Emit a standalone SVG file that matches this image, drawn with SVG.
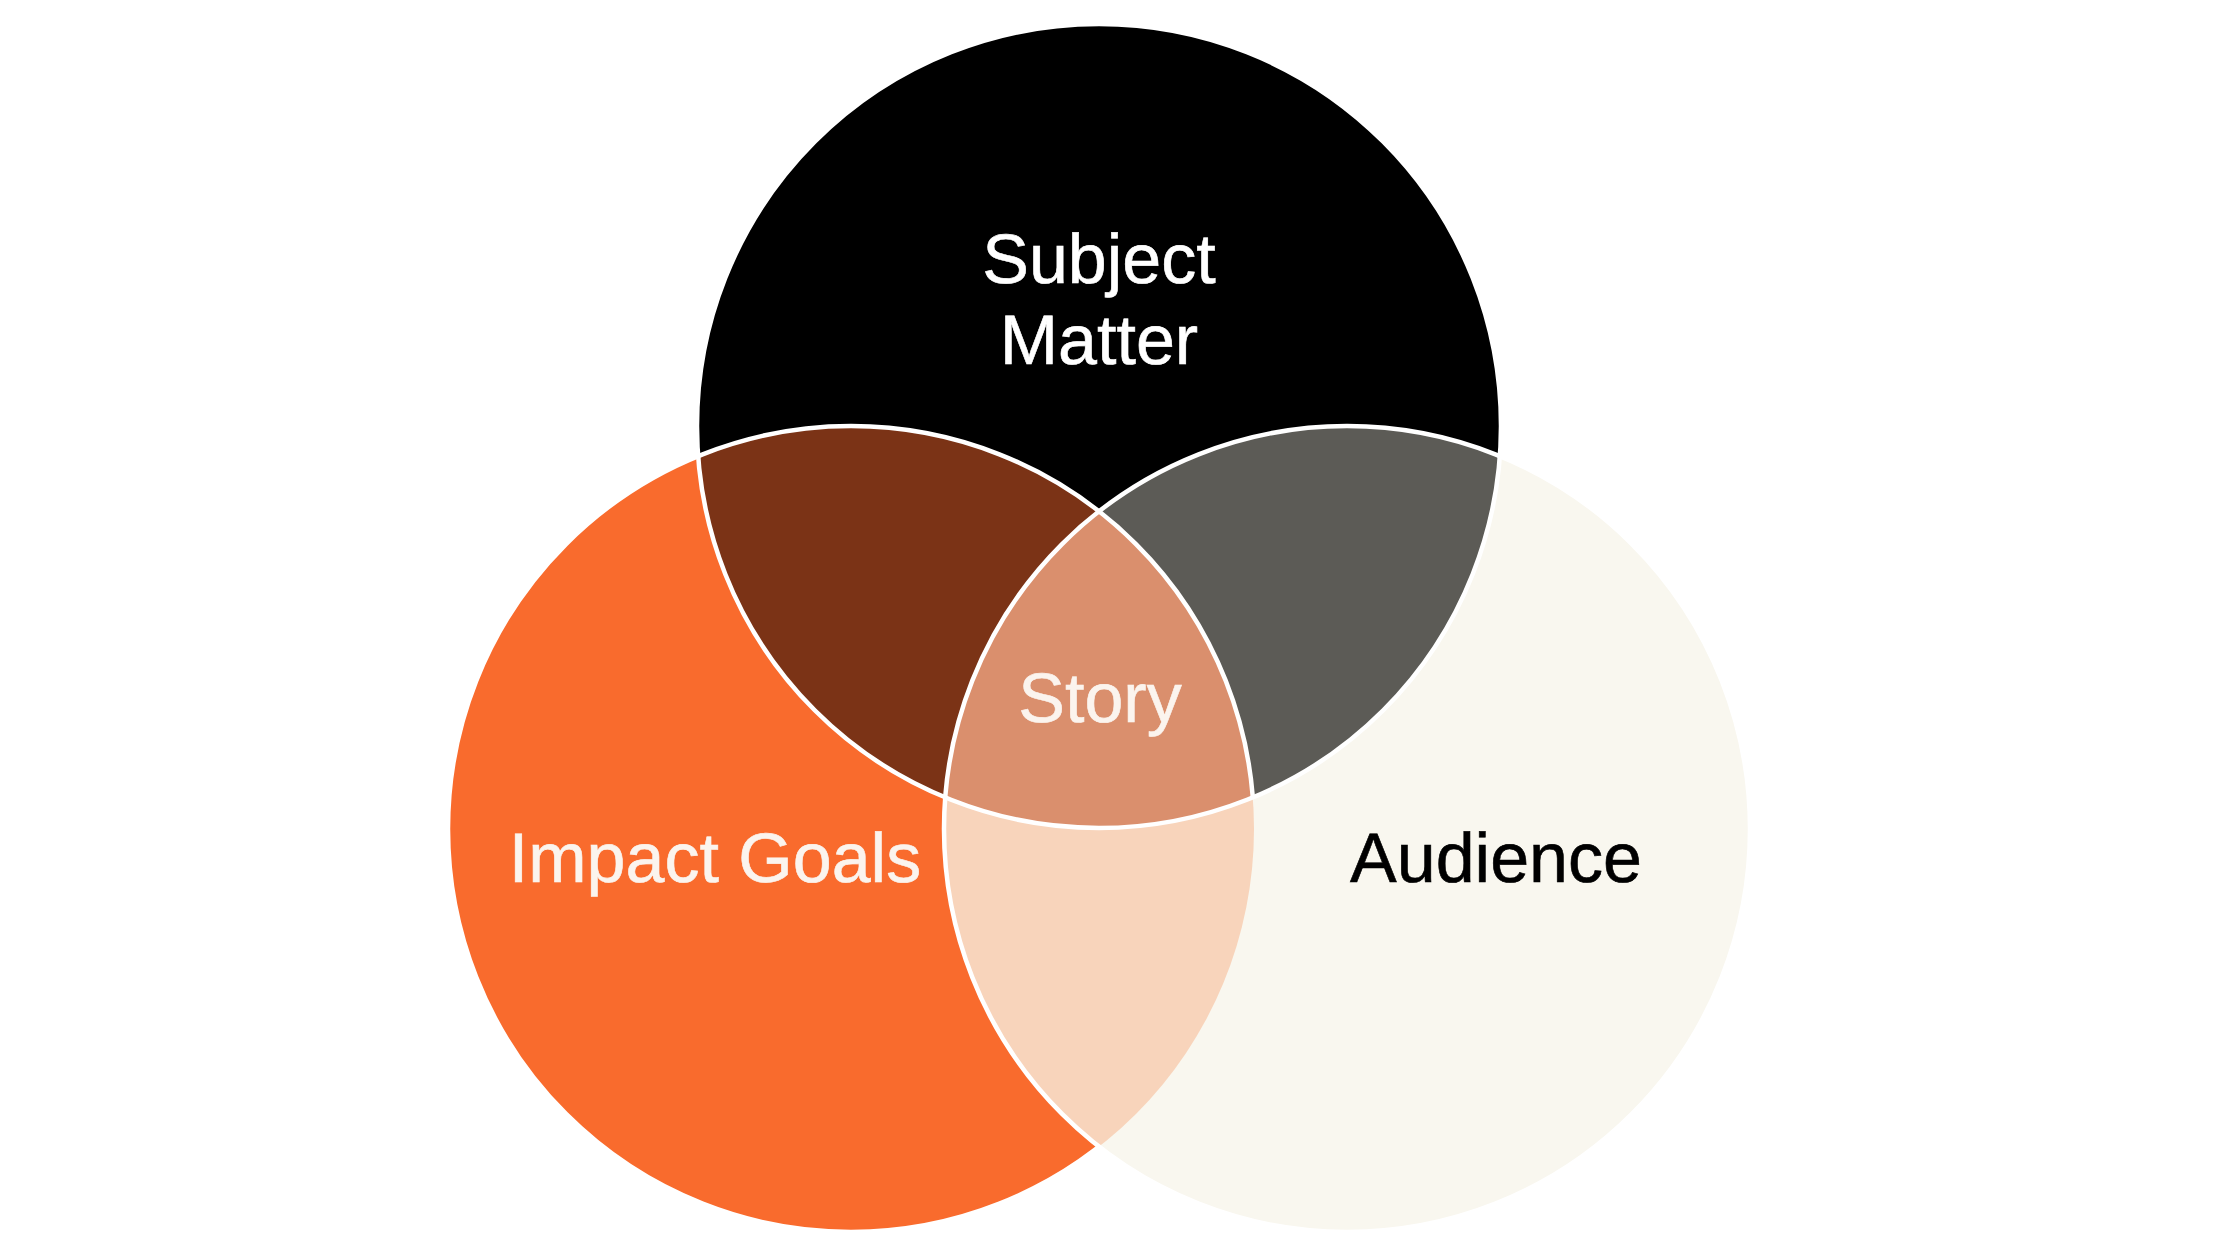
<svg xmlns="http://www.w3.org/2000/svg" width="2240" height="1260" viewBox="0 0 2240 1260">
<style>
.lbl{font-family:"Liberation Sans",Arial,sans-serif;font-size:70px;text-anchor:middle;stroke-width:0.6;paint-order:stroke;text-rendering:geometricPrecision}
.ring{fill:none;stroke:#ffffff;stroke-width:4.5}
</style>
<defs>
<clipPath id="cL"><circle cx="851" cy="829" r="403"/></clipPath>
<clipPath id="cR"><circle cx="1347" cy="829" r="403"/></clipPath>
<clipPath id="cT"><circle cx="1099" cy="426" r="402"/></clipPath>
<mask id="mL" maskUnits="userSpaceOnUse" x="0" y="0" width="2240" height="1260">
<rect width="2240" height="1260" fill="#ffffff"/>
<circle cx="1347" cy="829" r="403" fill="#000000"/>
<circle cx="1099" cy="426" r="402" fill="#ffffff"/>
</mask>
</defs>
<rect width="2240" height="1260" fill="#ffffff"/>
<g id="impact-goals">
<circle cx="851" cy="829" r="403" fill="#F96B2D"/>
</g>
<g id="audience">
<circle cx="1347" cy="829" r="403" fill="#F9F7EF"/>
</g>
<g id="subject-matter">
<circle cx="1099" cy="426" r="402" fill="#000000"/>
</g>
<g id="overlaps">
<circle cx="1099" cy="426" r="402" fill="#7B3316" clip-path="url(#cL)"/>
<circle cx="1099" cy="426" r="402" fill="#5C5B56" clip-path="url(#cR)"/>
<circle cx="851" cy="829" r="403" fill="#F8D4BB" clip-path="url(#cR)"/>
</g>
<g id="story">
<g clip-path="url(#cR)">
<circle cx="1099" cy="426" r="402" fill="#DA8F6D" clip-path="url(#cL)"/>
</g>
</g>
<g id="outlines">
<circle class="ring" cx="851" cy="829" r="403" mask="url(#mL)"/>
<circle class="ring" cx="1347" cy="829" r="403"/>
<circle class="ring" cx="1099" cy="426" r="402"/>
</g>
<g id="labels">
<text class="lbl" x="1099" y="283" fill="#ffffff" stroke="#ffffff">Subject</text>
<text class="lbl" x="1099" y="364" fill="#ffffff" stroke="#ffffff">Matter</text>
<text class="lbl" x="1100" y="722" fill="#FBF4EE" stroke="#FBF4EE">Story</text>
<text class="lbl" x="715" y="882" fill="#FBF4EE" stroke="#FBF4EE">Impact Goals</text>
<text class="lbl" x="1496" y="882" fill="#000000" stroke="#000000">Audience</text>
</g>
</svg>
